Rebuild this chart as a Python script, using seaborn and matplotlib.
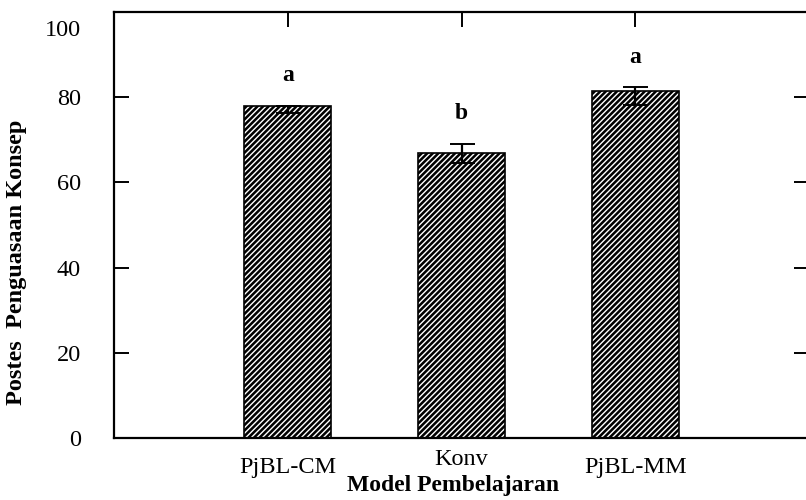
import numpy as np
import pandas as pd
import matplotlib
matplotlib.use("Agg")
import matplotlib.pyplot as plt
import matplotlib.transforms as mtransforms
import seaborn as sns

# Données
models = ["PjBL-CM", "Konv", "PjBL-MM"]
scores = [78.0, 66.8, 81.4]
err_low = [1.6, 2.3, 3.3]
err_high = [0.0, 2.3, 1.0]
letters = ["a", "b", "a"]

df = pd.DataFrame({"Model": models, "Skor": scores})

sns.set_theme(style="ticks")
plt.rcParams["font.family"] = ["Liberation Serif", "DejaVu Serif"]
plt.rcParams["text.color"] = "black"
plt.rcParams["axes.labelcolor"] = "black"
plt.rcParams["hatch.linewidth"] = 1.0
plt.rcParams["hatch.color"] = "white"

fig = plt.figure(figsize=(8.06, 5.0), dpi=100)
ax = fig.add_axes([114 / 806, 62 / 500, (809 - 114) / 806, (438 - 12) / 500])

# barres hachurées (fond noir, hachures blanches)
sns.barplot(data=df, x="Model", y="Skor", order=models, color="black",
            saturation=1, width=0.5, errorbar=None, edgecolor="white",
            linewidth=0, hatch="//////", ax=ax)
# contour noir
sns.barplot(data=df, x="Model", y="Skor", order=models, fill=False,
            width=0.5, errorbar=None, edgecolor="black", linewidth=1.2, ax=ax)

xpos = np.arange(len(models))
ax.errorbar(xpos, scores, yerr=[err_low, err_high], fmt="none",
            ecolor="black", elinewidth=1.6, capsize=9, capthick=1.4, zorder=5)

# lettres de significativité
for x, s, e, l in zip(xpos, scores, err_high, letters):
    ax.text(x, s + e + 7, l, ha="center", va="center", fontsize=17,
            fontweight="bold")

ax.set_xlim(-1, 3)
ax.set_ylim(0, 100)
ax.set_yticks([0, 20, 40, 60, 80, 100])

ax.spines["right"].set_visible(False)
for sp in ["left", "top", "bottom"]:
    ax.spines[sp].set_linewidth(1.6)
    ax.spines[sp].set_color("black")

ax.tick_params(axis="y", which="both", direction="in", length=11, width=1.4,
               left=True, right=True, labelsize=17.5, pad=24, colors="black")
ax.tick_params(axis="x", which="both", direction="in", length=11, width=1.4,
               top=True, bottom=False, labelsize=17.5, pad=14, colors="black")

# petits décalages des étiquettes comme sur l'original
lab100 = ax.get_yticklabels()[-1]
lab100.set_verticalalignment("top")
lab100.set_transform(lab100.get_transform() +
                     mtransforms.ScaledTranslation(0, -6 / 72, fig.dpi_scale_trans))
labkonv = ax.get_xticklabels()[1]
labkonv.set_transform(labkonv.get_transform() +
                      mtransforms.ScaledTranslation(0, 6 / 72, fig.dpi_scale_trans))

ax.set_xlabel("Model Pembelajaran", fontsize=17, fontweight="bold")
ax.set_ylabel("Postes  Penguasaan Konsep", fontsize=17.5, fontweight="bold")
ax.xaxis.set_label_coords(0.488, -0.087)
ax.yaxis.set_label_coords(-0.125, 0.413)

fig.savefig("out.png", dpi=100)
